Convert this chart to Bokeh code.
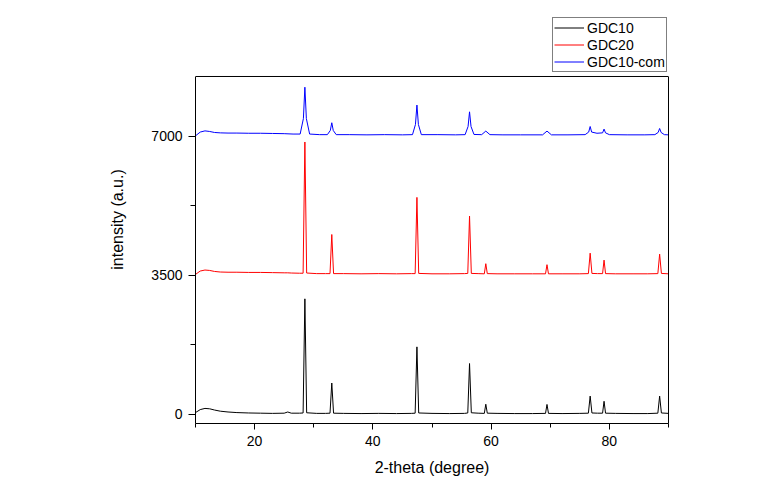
from bokeh.plotting import figure
from bokeh.models import Range1d, FixedTicker, Legend, LegendItem, LinearAxis, Span
from bokeh.embed import file_html
from bokeh.resources import INLINE

# ---- data (2-theta in degrees, intensity in a.u.) ----
series_names = ["GDC10", "GDC20", "GDC10-com"]
series_offsets = [0, 3500, 7000]

two_theta_gdc10 = [10.0, 10.8, 11.6, 12.4, 13.2, 14.2, 15.5, 17.0, 19.0, 21.0, 23.0, 25.0, 25.6, 26.2,
                   27.6, 28.2, 28.5, 28.8, 30.5, 32.0, 32.75, 33.05, 33.35, 35.0, 38.0, 41.0, 44.0,
                   46.5, 47.15, 47.45, 47.75, 50.0, 53.0, 55.5, 56.05, 56.35, 56.65, 57.8, 58.85,
                   59.1, 59.35, 61.0, 64.0, 67.0, 69.2, 69.45, 69.7, 72.0, 75.0, 76.45, 76.75, 77.05,
                   78.0, 78.85, 79.1, 79.35, 81.0, 84.0, 86.5, 88.2, 88.5, 88.8, 90.0]
intensity_gdc10 = [45, 120, 150, 140, 110, 80, 60, 45, 35, 30, 25, 30, 60, 30,
                   30, 35, 2910, 40, 25, 25, 30, 790, 30, 25, 20, 25, 20,
                   25, 30, 1700, 35, 25, 20, 25, 35, 1280, 40, 30, 25,
                   255, 30, 25, 20, 20, 25, 250, 25, 20, 25, 30, 460, 35,
                   30, 30, 330, 30, 25, 20, 20, 30, 460, 35, 25]

two_theta_gdc20 = [10.0, 10.8, 11.6, 12.4, 13.2, 14.2, 15.5, 17.0, 19.0, 21.0, 23.0, 25.0, 25.6, 26.2,
                   27.6, 28.2, 28.5, 28.8, 30.5, 32.0, 32.75, 33.05, 33.35, 35.0, 38.0, 41.0, 44.0,
                   46.5, 47.15, 47.45, 47.75, 50.0, 53.0, 55.5, 56.05, 56.35, 56.65, 57.8, 58.85,
                   59.1, 59.35, 61.0, 64.0, 67.0, 69.2, 69.45, 69.7, 72.0, 75.0, 76.45, 76.75, 77.05,
                   78.0, 78.85, 79.1, 79.35, 81.0, 84.0, 86.5, 88.2, 88.5, 88.8, 90.0]
intensity_gdc20 = [25, 110, 135, 125, 100, 85, 80, 80, 75, 75, 70, 65, 65, 60,
                   55, 55, 3360, 60, 45, 45, 45, 1030, 45, 45, 40, 45, 40,
                   45, 45, 1965, 50, 40, 40, 45, 50, 1495, 50, 45, 40,
                   295, 45, 40, 40, 40, 40, 270, 40, 40, 40, 45, 560, 50,
                   45, 45, 385, 45, 40, 40, 40, 45, 535, 50, 40]

two_theta_gdc10_com = [10.0, 10.8, 11.6, 12.4, 13.2, 14.2, 15.5, 17.0, 19.0, 21.0, 23.0, 25.0, 26.5,
                       27.7, 28.25, 28.5, 28.75, 29.3, 31.0, 32.3, 32.8, 33.05, 33.3, 33.8, 36.0,
                       39.0, 42.0, 45.0, 46.7, 47.2, 47.45, 47.7, 48.2, 51.0, 54.0, 55.6, 56.1,
                       56.35, 56.6, 57.1, 58.4, 59.1, 59.8, 62.0, 65.0, 68.7, 69.45, 70.2, 73.0,
                       75.9, 76.5, 76.75, 77.0, 77.9, 78.85, 79.1, 79.35, 80.0, 83.0, 86.0, 87.7,
                       88.25, 88.5, 88.75, 89.3, 90.0]
intensity_gdc10_com = [15, 110, 140, 125, 100, 90, 85, 85, 80, 80, 75, 70, 60,
                       60, 450, 1240, 450, 60, 45, 45, 150, 345, 150, 45, 45,
                       40, 45, 40, 45, 300, 790, 300, 45, 45, 40, 45, 250,
                       620, 250, 50, 45, 135, 45, 40, 40, 40, 135, 40, 40,
                       45, 110, 250, 110, 80, 90, 185, 90, 45, 40, 40, 45,
                       100, 200, 100, 45, 40]

x_major_ticks = [20, 40, 60, 80]
x_minor_ticks = [10, 30, 50, 70, 90]
y_major_ticks = [0, 3500, 7000]
y_minor_ticks = [1750, 5250]

# visible axis box limits (data units) and the extra headroom that holds the legend
y_box = (-230, 8510)
y_view_top = 10046

colors = ["#000000", "#ff0000", "#0000ff"]
FONT = "Liberation Sans"

p = figure(width=770, height=493, output_backend="svg", toolbar_location=None,
           x_range=Range1d(10, 90), y_range=Range1d(y_box[0], y_view_top),
           min_border_left=195, min_border_right=102, min_border_top=15, min_border_bottom=70)
p.background_fill_color = "white"
p.border_fill_color = "white"
p.outline_line_color = None
p.xgrid.visible = False
p.ygrid.visible = False

xs_all = [two_theta_gdc10, two_theta_gdc20, two_theta_gdc10_com]
ys_all = [intensity_gdc10, intensity_gdc20, intensity_gdc10_com]

items = []
for name, off, xs, ys, c in zip(series_names, series_offsets, xs_all, ys_all, colors):
    r = p.line(xs, [v + off for v in ys], line_color=c, line_width=1)
    items.append(LegendItem(label=name, renderers=[r]))

for ax in (p.xaxis[0], p.yaxis[0]):
    ax.axis_line_color = "black"
    ax.major_tick_line_color = "black"
    ax.minor_tick_line_color = "black"
    ax.major_tick_in = 0
    ax.minor_tick_in = 0
    ax.major_label_text_font = FONT
    ax.major_label_text_font_size = "14px"
    ax.major_label_text_color = "black"
    ax.axis_label_text_font = FONT
    ax.axis_label_text_font_size = "16px"
    ax.axis_label_text_font_style = "normal"
    ax.axis_label_text_color = "black"

p.xaxis[0].ticker = FixedTicker(ticks=x_major_ticks, minor_ticks=x_minor_ticks)
p.yaxis[0].ticker = FixedTicker(ticks=y_major_ticks, minor_ticks=y_minor_ticks)
p.yaxis[0].bounds = y_box
p.xaxis[0].major_tick_out = 6
p.xaxis[0].minor_tick_out = 4
p.yaxis[0].major_tick_out = 7
p.yaxis[0].minor_tick_out = 5
p.xaxis[0].axis_label = "2-theta (degree)"
p.yaxis[0].axis_label = "intensity (a.u.)"
p.xaxis[0].major_label_standoff = 6
p.xaxis[0].axis_label_standoff = 10
p.yaxis[0].major_label_standoff = 6
p.yaxis[0].axis_label_standoff = 22

# right edge of the box: a bare axis line
right_axis = LinearAxis(ticker=FixedTicker(ticks=[], minor_ticks=[]), bounds=y_box,
                        axis_line_color="black", major_tick_line_color=None,
                        minor_tick_line_color=None, major_label_text_font_size="0px")
p.add_layout(right_axis, "right")
# top edge of the box
p.add_layout(Span(location=y_box[1], dimension="width", line_color="black", line_width=1))

# legend just above the box, right-aligned with it (pixels from frame's bottom-left)
legend = Legend(items=items, location=(357, 351), orientation="vertical")
legend.margin = 0
legend.padding = 1
legend.spacing = 0
legend.glyph_width = 30
legend.glyph_height = 17
legend.label_height = 17
legend.label_standoff = 3
legend.label_text_font = FONT
legend.label_text_font_size = "14px"
legend.label_text_color = "black"
legend.border_line_color = "black"
legend.border_line_width = 1
legend.background_fill_color = "white"
legend.background_fill_alpha = 1
p.add_layout(legend, "center")

open("out.html", "w").write(file_html(p, INLINE))
